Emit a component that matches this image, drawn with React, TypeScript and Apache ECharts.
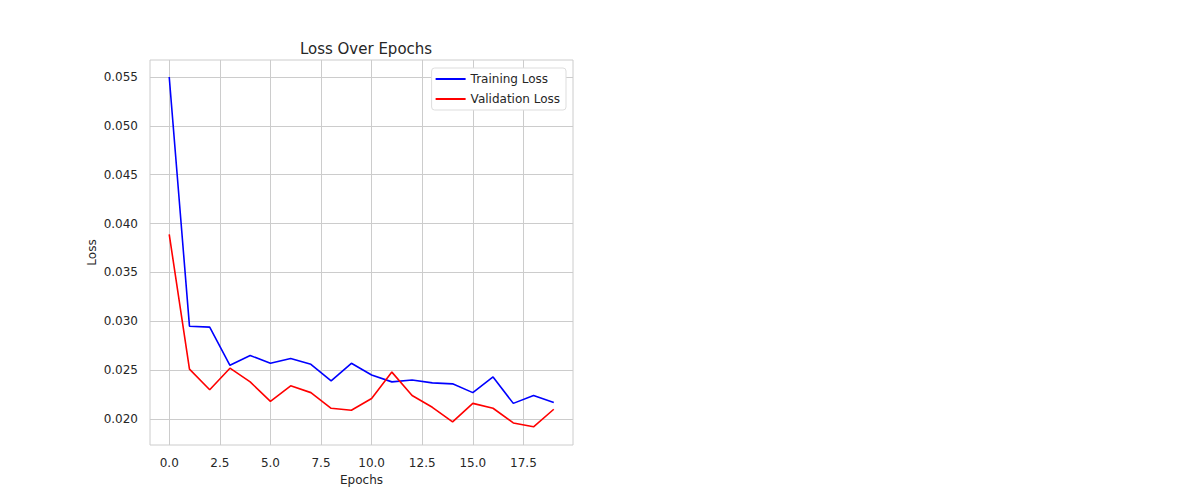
import React, { useEffect, useRef } from "react";
import * as echarts from "echarts";

const epochs = Array.from({ length: 20 }, (_, i) => i);
const trainingLoss = [0.055, 0.0295, 0.0294, 0.0255, 0.0265, 0.0257, 0.0262, 0.0256, 0.0239, 0.0257, 0.0245, 0.0238, 0.024, 0.0237, 0.0236, 0.0227, 0.0243, 0.0216, 0.0224, 0.0217];
const validationLoss = [0.0389, 0.0251, 0.023, 0.0252, 0.0238, 0.0218, 0.0234, 0.0227, 0.0211, 0.0209, 0.0221, 0.0248, 0.0224, 0.0212, 0.0197, 0.0216, 0.0211, 0.0196, 0.0192, 0.021];
const xTicks = [0, 2.5, 5, 7.5, 10, 12.5, 15, 17.5];
const yTicks = [0.02, 0.025, 0.03, 0.035, 0.04, 0.045, 0.05, 0.055];

const App = () => {
  const chartRef = useRef<HTMLDivElement>(null);

  useEffect(() => {
    if (!chartRef.current) return;
    const chart = echarts.init(chartRef.current, null, { renderer: "svg" });
    const font = "DejaVu Sans";
    const option: echarts.EChartsOption = {
      animation: false,
      textStyle: { fontFamily: font },
      title: {
        text: "Loss Over Epochs",
        left: 361,
        top: 36,
        textAlign: "center",
        textStyle: { fontSize: 15, fontWeight: "normal", color: "#262626", fontFamily: font },
      },
      legend: {
        orient: "vertical",
        right: 1200 - 566,
        top: 68,
        itemWidth: 30,
        itemHeight: 2,
        itemGap: 8,
        backgroundColor: "#fff",
        borderColor: "#ddd",
        borderWidth: 1,
        borderRadius: 3,
        padding: [5, 6, 5, 4],
        textStyle: { fontSize: 12, color: "#262626" },
        data: [
          { name: "Training Loss", icon: "rect" },
          { name: "Validation Loss", icon: "rect" },
        ],
      },
      grid: {
        left: 150,
        right: 627,
        top: 60,
        bottom: 55,
        show: true,
        borderColor: "#cccccc",
        borderWidth: 1,
      },
      xAxis: {
        type: "value",
        min: -0.95,
        max: 19.95,
        name: "Epochs",
        nameLocation: "middle",
        nameGap: 28,
        nameTextStyle: { fontSize: 12, color: "#262626" },
        axisLine: { show: false },
        axisTick: { show: false, customValues: xTicks },
        axisLabel: {
          customValues: xTicks,
          color: "#262626",
          fontSize: 12,
          margin: 12,
          formatter: (v: number) => v.toFixed(1),
        },
        splitLine: { show: true, lineStyle: { color: "#cccccc", width: 1 } },
      },
      yAxis: {
        type: "value",
        min: 0.01734,
        max: 0.05674,
        name: "Loss",
        nameLocation: "middle",
        nameGap: 52,
        nameTextStyle: { fontSize: 12, color: "#262626" },
        axisLine: { show: false },
        axisTick: { show: false, customValues: yTicks },
        axisLabel: {
          customValues: yTicks,
          color: "#262626",
          fontSize: 12,
          margin: 12,
          formatter: (v: number) => v.toFixed(3),
        },
        splitLine: { show: true, lineStyle: { color: "#cccccc", width: 1 } },
      },
      series: [
        {
          name: "Training Loss",
          type: "line",
          data: epochs.map((e, i) => [e, trainingLoss[i]]),
          showSymbol: false,
          lineStyle: { color: "#0000ff", width: 1.6 },
          itemStyle: { color: "#0000ff" },
        },
        {
          name: "Validation Loss",
          type: "line",
          data: epochs.map((e, i) => [e, validationLoss[i]]),
          showSymbol: false,
          lineStyle: { color: "#ff0000", width: 1.6 },
          itemStyle: { color: "#ff0000" },
        },
      ],
    };
    chart.setOption(option);
    return () => chart.dispose();
  }, []);

  return <div ref={chartRef} style={{ width: "1200px", height: "500px", margin: "-8px" }} />;
};

export default App;
